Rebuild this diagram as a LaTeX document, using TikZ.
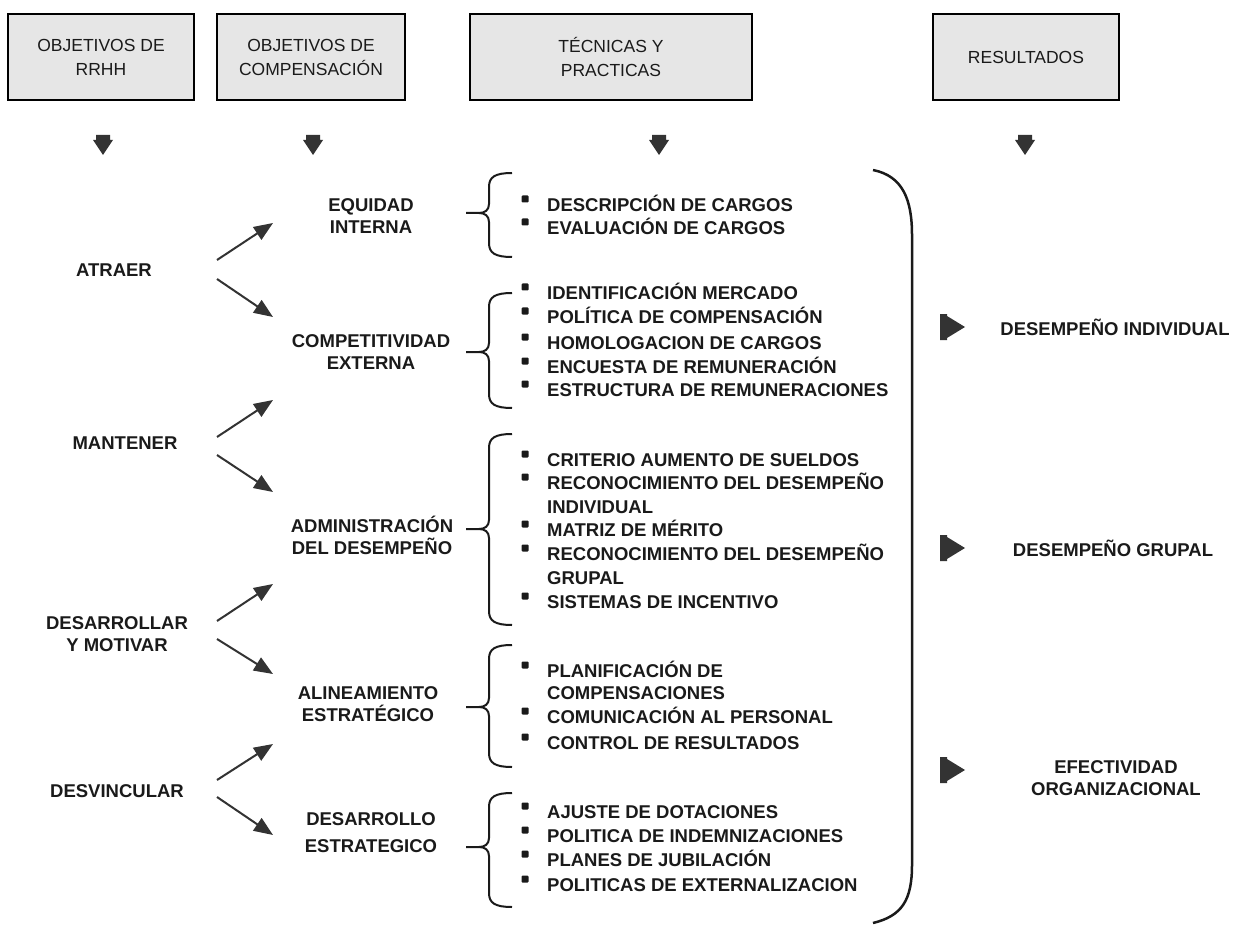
\documentclass[tikz,border=0pt]{standalone}
\usepackage{fontspec}
\setmainfont{Liberation Sans}
\usetikzlibrary{arrows.meta}
\tikzset{>={Triangle[length=19pt,width=15pt]}}
\definecolor{ink}{HTML}{1A1A1A}
\definecolor{arrowgray}{HTML}{333333}
\definecolor{boxgray}{HTML}{E6E6E6}
% left curly brace: top, tip, bottom
\newcommand{\techbrace}[3]{%
  \draw[brace] (512,#1) .. controls (495,#1) and (489,#1+4) .. (489,#1+14) -- (489,#2-9)
    .. controls (489,#2-3) and (485,#2) .. (479,#2) -- (466,#2) -- (479,#2)
    .. controls (485,#2) and (489,#2+3) .. (489,#2+9) -- (489,#3-14)
    .. controls (489,#3-4) and (495,#3) .. (512,#3);}

\begin{document}
\begin{tikzpicture}[x=1pt,y=-1pt,
    header/.style={draw=black,line width=2pt,fill=boxgray,text=ink,align=center,
      minimum height=86pt,font=\fontsize{17.5}{24}\selectfont},
    bold/.style={text=ink,align=center,font=\fontsize{18.5}{22}\selectfont\bfseries},
    item/.style={text=ink,anchor=base west,inner sep=0pt,font=\fontsize{18.5}{22}\selectfont\bfseries},
    link/.style={->,draw=arrowgray,line width=2pt},
    brace/.style={draw=ink,line width=2pt}]
  \useasboundingbox (0,0) rectangle (1242,925);

  % headers
  \node[header,minimum width=186pt] (rrhh) at (101,57) {OBJETIVOS DE\\RRHH};
  \node[header,minimum width=188pt] (comp) at (311,57) {OBJETIVOS DE\\COMPENSACIÓN};
  \node[header,minimum width=282pt] (tec) at (611,57) {TÉCNICAS Y\\PRACTICAS};
  \node[header,minimum width=186pt] (res) at (1026,57) {RESULTADOS};

  \foreach \x in {103,313,659,1025}
    \fill[arrowgray] (\x-7,135) -- (\x+7,135) -- (\x+7,140) -- (\x+10,140) -- (\x,155)
      -- (\x-10,140) -- (\x-7,140) -- cycle;

  % objetivos de RRHH
  \node[bold] (atraer) at (114,270) {ATRAER};
  \node[bold] (mantener) at (125,443) {MANTENER};
  \node[bold] (desarrollar) at (117,634) {DESARROLLAR\\Y MOTIVAR};
  \node[bold] (desvincular) at (117,791) {DESVINCULAR};

  % objetivos de compensacion
  \node[bold] (equidad) at (371,216) {EQUIDAD\\INTERNA};
  \node[bold] (competitividad) at (371,352) {COMPETITIVIDAD\\EXTERNA};
  \node[bold] (administracion) at (372,535) {ADMINISTRACIÓN\\DEL DESEMPEÑO};
  \node[bold] (alineamiento) at (368,704) {ALINEAMIENTO\\ESTRATÉGICO};
  \node[bold,font=\fontsize{18.5}{27}\selectfont\bfseries] (desarrollo) at (371,833) {DESARROLLO\\ESTRATEGICO};

  \foreach \n/\a/\b/\c/\d in {atraer/260/223/279/317, mantener/437/400/455/492,
      desarrollar/621/584/639/674, desvincular/780/744/797/835} {
    \coordinate (\n-up0) at (217,\a);
    \coordinate (\n-up1) at (273,\b);
    \coordinate (\n-dn0) at (217,\c);
    \coordinate (\n-dn1) at (273,\d);
    \draw[link] (\n-up0) -- (\n-up1);
    \draw[link] (\n-dn0) -- (\n-dn1);
  }

  % tecnicas y practicas
  \techbrace{173}{213}{257}
  \techbrace{293}{352}{408}
  \techbrace{434}{529}{625}
  \techbrace{645}{707}{767}
  \techbrace{793}{847}{907}

  \foreach \y/\b/\t in {205/1/DESCRIPCIÓN DE CARGOS, 228/1/EVALUACIÓN DE CARGOS,
      293/1/IDENTIFICACIÓN MERCADO, 317/1/POLÍTICA DE COMPENSACIÓN,
      343/1/HOMOLOGACION DE CARGOS, 367/1/ENCUESTA DE REMUNERACIÓN,
      390/1/ESTRUCTURA DE REMUNERACIONES,
      460/1/CRITERIO AUMENTO DE SUELDOS, 483/1/RECONOCIMIENTO DEL DESEMPEÑO,
      507/0/INDIVIDUAL, 530/1/MATRIZ DE MÉRITO, 554/1/RECONOCIMIENTO DEL DESEMPEÑO,
      578/0/GRUPAL, 602/1/SISTEMAS DE INCENTIVO,
      671/1/PLANIFICACIÓN DE, 693/0/COMPENSACIONES, 717/1/COMUNICACIÓN AL PERSONAL,
      743/1/CONTROL DE RESULTADOS,
      812/1/AJUSTE DE DOTACIONES, 836/1/POLITICA DE INDEMNIZACIONES,
      860/1/PLANES DE JUBILACIÓN, 885/1/POLITICAS DE EXTERNALIZACION} {
    \node[item] (t-\y) at (547,\y+6.5) {\t};
    \ifnum\b=1 \fill[ink,rounded corners=1pt] (521.5,\y-9.5) rectangle (528.5,\y-2.5); \fi
  }

  \draw[brace,line width=2.5pt] (873,170) .. controls (903,176) and (912,200) .. (912,235)
    -- (912,865) .. controls (912,900) and (902,916) .. (873,923);

  % resultados
  \foreach \y in {327,548,770}
    \fill[arrowgray] (940,\y-13) -- (947,\y-13) -- (947,\y-11) -- (965,\y) -- (947,\y+11)
      -- (947,\y+13) -- (940,\y+13) -- cycle;

  \node[bold] (individual) at (1115,327) {DESEMPEÑO INDIVIDUAL};
  \node[bold] (grupal) at (1113,548) {DESEMPEÑO GRUPAL};
  \node[bold] (efectividad) at (1116,778) {EFECTIVIDAD\\ORGANIZACIONAL};
\end{tikzpicture}
\end{document}
